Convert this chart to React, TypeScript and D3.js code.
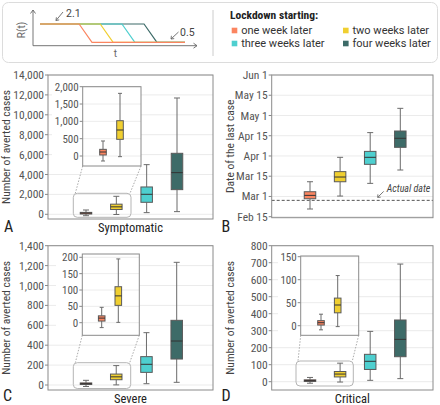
import React from "react";
import * as d3 from "d3";

const groups = ["one week later", "two weeks later", "three weeks later", "four weeks later"];
const colors = ["#fb8560", "#f0cf30", "#4ecfcf", "#3d6b68"];

// [min, q1, median, q3, max]
const symptomatic = [
  [-144, 29, 115, 192, 433],
  [-19, 481, 750, 1019, 1808],
  [167, 1206, 2010, 2747, 4990],
  [268, 2479, 4188, 6130, 11690],
];
// days after Feb 15 on the (evenly spaced) date axis
const lastCase = [
  [5.7, 13.3, 15.8, 18.5, 25.9],
  [15.3, 25.9, 29.4, 33.4, 44],
  [24.7, 38.8, 44, 48.4, 62.3],
  [34.6, 51.4, 58.1, 63.5, 80.3],
];
const actualDate = 12.1;
const severe = [
  [-15, 5, 14, 21, 47],
  [1, 53, 82, 110, 195],
  [13, 127, 208, 285, 526],
  [27, 261, 442, 650, 1233],
];
const critical = [
  [-9, 1.4, 6.5, 11, 25],
  [-2, 28, 45, 60, 109],
  [8, 72, 120, 161, 296],
  [18, 147, 249, 363, 692],
];

const symTicks = [0, 2000, 4000, 6000, 8000, 10000, 12000, 14000];
const symInsetTicks = [0, 500, 1000, 1500, 2000];
const dateTicks = [0, 15, 30, 45, 60, 75, 90, 105];
const dateLabels = ["Feb 15", "Mar 1", "Mar 15", "Apr 1", "Apr 15", "May 1", "May 15", "Jun 1"];
const sevTicks = [0, 200, 400, 600, 800, 1000, 1200, 1400];
const sevInsetTicks = [0, 50, 100, 150, 200];
const critTicks = [0, 100, 200, 300, 400, 500, 600, 700, 800];
const critInsetTicks = [0, 50, 100, 150];

// schematic R(t)
const rHigh = 2.1;
const rLow = 0.5;
const lockStart = [12.4, 19.1, 26, 33];
const rampDays = 4.1;
const tEnd = 46;

const FC = "'Roboto Condensed','Liberation Sans Narrow','DejaVu Sans Condensed',sans-serif";
const FR = "Roboto,'Noto Sans',sans-serif";
const fmt = d3.format(",");

function Box({ y, cx, w, cap, s, color }) {
  const [mn, q1, md, q3, mx] = s;
  return (
    <g>
      <line x1={cx} x2={cx} y1={y(mx)} y2={y(q3)} stroke="#6b6b6b" strokeWidth={1} />
      <line x1={cx} x2={cx} y1={y(q1)} y2={y(mn)} stroke="#6b6b6b" strokeWidth={1} />
      <line x1={cx - cap / 2} x2={cx + cap / 2} y1={y(mx)} y2={y(mx)} stroke="#6b6b6b" />
      <line x1={cx - cap / 2} x2={cx + cap / 2} y1={y(mn)} y2={y(mn)} stroke="#6b6b6b" />
      <rect x={cx - w / 2} y={y(q3)} width={w} height={Math.max(0.5, y(q1) - y(q3))} fill={color} stroke="#5a5a5a" strokeWidth={1} />
      <line x1={cx - w / 2} x2={cx + w / 2} y1={y(md)} y2={y(md)} stroke="#333" strokeWidth={1} />
    </g>
  );
}

function Panel({ fr, yDom, yRange, ticks, labels, data, xr, inset, yTitle, cat, letter, letterPos, refLine }) {
  const y = d3.scaleLinear().domain(yDom).range(yRange);
  const x = d3.scaleLinear().domain([0, 3]).range(xr);
  let insetEl = null;
  if (inset) {
    const iy = d3.scaleLinear().domain(inset.dom).range(inset.range);
    const ix = d3.scaleLinear().domain([0, 1]).range(inset.xr);
    const f = inset.fr;
    const z = inset.zoom;
    insetEl = (
      <g>
        <path d={`M${f.x0},${f.y1}L${z.x0 + 2},${z.y0}M${f.x1},${f.y1}L${z.x1 - 1},${z.y0}`} stroke="#aaa" strokeDasharray="1.5,1.5" fill="none" />
        <rect x={z.x0} y={z.y0} width={z.x1 - z.x0} height={z.y1 - z.y0} rx={4} fill="none" stroke="#b5b5b5" strokeWidth={1} />
        <rect x={inset.bgx} y={f.y0 - 6} width={f.x1 - inset.bgx} height={f.y1 - f.y0 + 6} fill="#fff" />
        {inset.ticks.map((t) => (
          <line key={"g" + t} x1={f.x0} x2={f.x1} y1={iy(t)} y2={iy(t)} stroke="#ececec" />
        ))}
        {inset.ticks.map((t) => (
          <g key={"t" + t}>
            <line x1={f.x0 - 3} x2={f.x0} y1={iy(t)} y2={iy(t)} stroke="#888" />
            <text x={f.x0 - 4} y={iy(t)} dy="0.35em" textAnchor="end" fontSize={11} fill="#555" fontFamily={FC}>{fmt(t)}</text>
          </g>
        ))}
        <rect x={f.x0} y={f.y0} width={f.x1 - f.x0} height={f.y1 - f.y0} fill="none" stroke="#8a8a8a" strokeWidth={1} />
        {[0, 1].map((i) => (
          <Box key={i} y={iy} cx={ix(i)} w={6.6} cap={4} s={data[i]} color={colors[i]} />
        ))}
      </g>
    );
  }
  return (
    <g>
      <rect x={fr.x0} y={fr.y0} width={fr.x1 - fr.x0} height={fr.y1 - fr.y0} fill="#fff" />
      {ticks.map((t) => (
        <line key={"g" + t} x1={fr.x0} x2={fr.x1} y1={y(t)} y2={y(t)} stroke="#ebebeb" />
      ))}
      {ticks.map((t, i) => (
        <g key={"t" + t}>
          <line x1={fr.x0 - 3} x2={fr.x0} y1={y(t)} y2={y(t)} stroke="#888" />
          <text x={fr.x0 - 4} y={y(t)} dy="0.35em" textAnchor="end" fontSize={11.5} fill="#555" fontFamily={FC}>
            {labels ? labels[i] : fmt(t)}
          </text>
        </g>
      ))}
      {refLine !== undefined && (
        <g>
          <line x1={fr.x0} x2={fr.x1} y1={y(refLine)} y2={y(refLine)} stroke="#555" strokeDasharray="3,2" />
          <path d={`M${fr.x0 + 112},${y(refLine) - 9}L${fr.x0 + 106},${y(refLine) - 3}`} stroke="#777" fill="none" />
          <path d={`M${fr.x0 + 106},${y(refLine) - 3}l3,-0.2M${fr.x0 + 106},${y(refLine) - 3}l0.2,-3`} stroke="#777" fill="none" />
          <text x={fr.x0 + 115} y={y(refLine) - 8} fontSize={10} fontStyle="italic" fill="#444" fontFamily={FC}>Actual date</text>
        </g>
      )}
      {data.map((s, i) => (
        <Box key={i} y={y} cx={x(i)} w={11.5} cap={6} s={s} color={colors[i]} />
      ))}
      {insetEl}
      <rect x={fr.x0} y={fr.y0} width={fr.x1 - fr.x0} height={fr.y1 - fr.y0} fill="none" stroke="#8a8a8a" strokeWidth={1} />
      <text transform={`translate(${fr.x0 - 38},${(fr.y0 + fr.y1) / 2}) rotate(-90)`} textAnchor="middle" fontSize={11.5} fill="#444" fontFamily={FC}>
        {yTitle}
      </text>
      {cat && (
        <text x={(fr.x0 + fr.x1) / 2} y={fr.y1 + 13} textAnchor="middle" fontSize={12.5} fill="#222" fontFamily={FC}>{cat}</text>
      )}
      <text x={letterPos[0]} y={letterPos[1]} fontSize={16} fill="#222" fontFamily={FC}>{letter}</text>
    </g>
  );
}

function Schematic() {
  const t = d3.scaleLinear().domain([0, tEnd]).range([40, 185]);
  const r = d3.scaleLinear().domain([rLow, rHigh]).range([42.3, 24]);
  const line = d3.line().x((d) => t(d[0])).y((d) => r(d[1]));
  const order = [3, 2, 1, 0];
  return (
    <g>
      <rect x={2.5} y={2.5} width={435} height={60} rx={6} fill="#fff" stroke="#dcdcdc" strokeWidth={1} />
      <path d="M33,45.7V10M30.5,13.5L33,10L35.5,13.5" stroke="#666" fill="none" strokeWidth={0.9} />
      <path d="M33,45.7H197M193.5,43.2L197,45.7L193.5,48.2" stroke="#666" fill="none" strokeWidth={0.9} />
      <text transform="translate(25,30) rotate(-90)" textAnchor="middle" fontSize={10} fill="#666" fontFamily={FR}>R(t)</text>
      <text x={115.5} y={57} textAnchor="middle" fontSize={10} fill="#666" fontFamily={FR}>t</text>
      {order.map((i) => (
        <path
          key={i}
          d={line([[0, rHigh], [lockStart[i], rHigh], [lockStart[i] + rampDays, rLow], [tEnd, rLow]])}
          stroke={colors[i]}
          strokeWidth={1.2}
          fill="none"
        />
      ))}
      <path d="M63,12L56,20.5M56,20.5l3.2,-0.6M56,20.5l0.4,-3.2" stroke="#666" fill="none" strokeWidth={0.9} />
      <text x={66} y={17} fontSize={10.5} fill="#444" fontFamily={FR}>2.1</text>
      <path d="M178.5,32L171,39M171,39l3.2,-0.4M171,39l0.4,-3.2" stroke="#666" fill="none" strokeWidth={0.9} />
      <text x={180} y={36} fontSize={10.5} fill="#444" fontFamily={FR}>0.5</text>
      <line x1={213} x2={213} y1={10} y2={56} stroke="#ccc" />
      <text x={230} y={19} fontSize={11.5} fontWeight="bold" fill="#222" fontFamily={FC}>Lockdown starting:</text>
      {groups.map((g, i) => {
        const cx = i % 2 === 0 ? 231.7 : 343;
        const cy = i < 2 ? 27.7 : 40.7;
        return (
          <g key={g}>
            <rect x={cx} y={cy} width={5.6} height={5.6} fill={colors[i]} />
            <text x={cx + 9.5} y={cy + 6} fontSize={11} fill="#333" fontFamily={FR}>{g}</text>
          </g>
        );
      })}
    </g>
  );
}

export default function App() {
  return (
    <svg width={440} height={405} style={{ position: "absolute", left: 0, top: 0, background: "#fff" }}>
      <Schematic />
      <Panel
        fr={{ x0: 48, x1: 213, y0: 75, y1: 219 }}
        yDom={[0, 14000]}
        yRange={[214.3, 75]}
        ticks={symTicks}
        data={symptomatic}
        xr={[86, 177]}
        yTitle="Number of averted cases"
        cat="Symptomatic"
        letter="A"
        letterPos={[4, 232]}
        inset={{
          dom: [0, 2000],
          range: [156, 86.7],
          xr: [103, 120],
          fr: { x0: 82.7, x1: 141, y0: 86.7, y1: 166 },
          zoom: { x0: 73.3, x1: 131, y0: 193.3, y1: 217.3 },
          bgx: 52,
          ticks: symInsetTicks,
        }}
      />
      <Panel
        fr={{ x0: 271.7, x1: 433, y0: 75, y1: 217.7 }}
        yDom={[0, 105]}
        yRange={[216.7, 75]}
        ticks={dateTicks}
        labels={dateLabels}
        data={lastCase}
        xr={[310, 400.3]}
        yTitle="Date of the last case"
        letter="B"
        letterPos={[221.5, 232]}
        refLine={actualDate}
      />
      <Panel
        fr={{ x0: 48, x1: 213, y0: 245.7, y1: 390 }}
        yDom={[0, 1400]}
        yRange={[385, 245.7]}
        ticks={sevTicks}
        data={severe}
        xr={[86, 176.7]}
        yTitle="Number of averted cases"
        cat="Severe"
        letter="C"
        letterPos={[3, 401]}
        inset={{
          dom: [0, 200],
          range: [322.7, 257.3],
          xr: [101.7, 118.3],
          fr: { x0: 82.3, x1: 139.3, y0: 254, y1: 335.3 },
          zoom: { x0: 73.3, x1: 130.7, y0: 362.7, y1: 388.5 },
          bgx: 56,
          ticks: sevInsetTicks,
        }}
      />
      <Panel
        fr={{ x0: 271.7, x1: 433, y0: 245.7, y1: 390 }}
        yDom={[0, 800]}
        yRange={[381.7, 245.7]}
        ticks={critTicks}
        data={critical}
        xr={[310, 400.3]}
        yTitle="Number of averted cases"
        cat="Critical"
        letter="D"
        letterPos={[221.5, 401]}
        inset={{
          dom: [0, 150],
          range: [325.7, 256.7],
          xr: [321, 337.7],
          fr: { x0: 300.7, x1: 358.7, y0: 256, y1: 335.3 },
          zoom: { x0: 296, x1: 353.3, y0: 361, y1: 386 },
          bgx: 278,
          ticks: critInsetTicks,
        }}
      />
    </svg>
  );
}
